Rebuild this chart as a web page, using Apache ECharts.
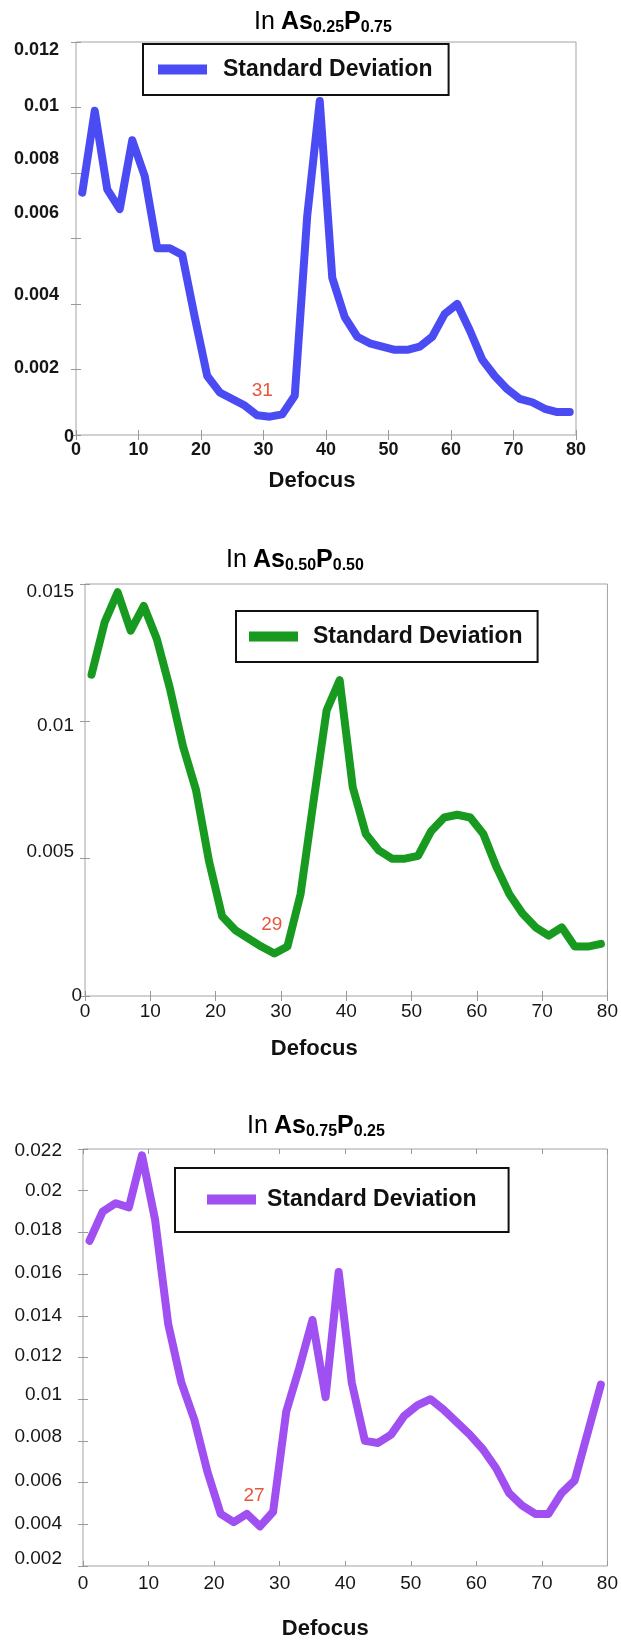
<!DOCTYPE html>
<html>
<head>
<meta charset="utf-8">
<script src="https://cdn.jsdelivr.net/npm/echarts@6/dist/echarts.min.js"></script>
<style>
html,body{margin:0;padding:0;background:#fff;}
#chart{width:621px;height:1648px;}
</style>
</head>
<body>
<div id="chart"></div>
<script>
// ---- data ----
const defocus = [1,3,5,7,9,11,13,15,17,19,21,23,25,27,29,31,33,35,37,39,41,43,45,47,49,51,53,55,57,59,61,63,65,67,69,71,73,75,77,79];
const sdAs025 = [0.0074,0.0099,0.0075,0.0069,0.0090,0.0079,0.0057,0.0057,0.0055,0.0036,0.0018,0.0013,0.0011,0.0009,0.0006,0.00056,0.00063,0.0012,0.0067,0.0102,0.0048,0.0036,0.0030,0.0028,0.0027,0.0026,0.0026,0.0027,0.0030,0.0037,0.0040,0.0032,0.0023,0.0018,0.0014,0.0011,0.0010,0.0008,0.0007,0.0007];
const sdAs050 = [0.0117,0.0136,0.0147,0.0133,0.0142,0.0130,0.0112,0.0091,0.0075,0.0049,0.0029,0.0024,0.0021,0.0018,0.00155,0.0018,0.0037,0.0071,0.0104,0.0115,0.0076,0.0059,0.0053,0.0050,0.0050,0.0051,0.0060,0.0065,0.0066,0.0065,0.0059,0.0047,0.0037,0.0030,0.0025,0.0022,0.0025,0.0018,0.0018,0.0019];
const sdAs075 = [0.0176,0.0190,0.0194,0.0192,0.0217,0.0186,0.0136,0.0108,0.0090,0.0065,0.0045,0.0041,0.0045,0.0039,0.0046,0.0094,0.0115,0.0138,0.0101,0.0161,0.0108,0.0080,0.0079,0.0083,0.0092,0.0097,0.0100,0.0095,0.0089,0.0083,0.0076,0.0067,0.0055,0.0049,0.0045,0.0045,0.0055,0.0061,0.0084,0.0107];
const xTickLabels = ['0','10','20','30','40','50','60','70','80'];
const yTickLabels1 = ['0','0.002','0.004','0.006','0.008','0.01','0.012'];
const yTickLabels2 = ['0','0.005','0.01','0.015'];
const yTickLabels3 = ['0.002','0.004','0.006','0.008','0.01','0.012','0.014','0.016','0.018','0.02','0.022'];
const titles = [['In','As','0.25','P','0.75'],['In','As','0.50','P','0.50'],['In','As','0.75','P','0.25']];
const legendText = 'Standard Deviation';
const xAxisName = 'Defocus';
const minMarks = [
  {name:'31', x:29.8, y:0.00135},
  {name:'29', x:28.6, y:0.00258},
  {name:'27', x:26.1, y:0.00535}
];

// ---- layout / style ----
const FONT = 'Liberation Sans, Arial, Helvetica, sans-serif';
const panels = [
  {data: sdAs025, color:'#4b4bf4', yMin:0, yMax:0.012, yInt:0.002, yLabels:yTickLabels1,
   grid:{left:76, top:42, width:500, height:393}, bold:true, yMargin:2, xMargin:6,
   labelDy:[2,-1,-9,-25,-14,-1,8], labelDx:[0,15,15,15,15,15,15],
   legend:{left:143, top:44, padding:[14,16,14,15], gap:11},
   title:{x:323, y:22}, nameGap:35, namePadRight:28},
  {data: sdAs050, color:'#179a1f', yMin:0, yMax:0.015, yInt:0.005, yLabels:yTickLabels2,
   grid:{left:85, top:584, width:526, height:412}, bold:false, yMargin:3, xMargin:6,
   labelDy:[0,-7,4,8], labelDx:[0,8,8,8],
   legend:{left:236, top:611, padding:[14,15,14,13], gap:10},
   title:{x:295, y:560}, nameGap:42, namePadRight:64},
  {data: sdAs075, color:'#a04ff0', yMin:0.002, yMax:0.022, yInt:0.002, yLabels:yTickLabels3,
   grid:{left:83, top:1149, width:527, height:417}, bold:false, yMargin:21, xMargin:8,
   labelDy:[-7,-1,-2,-4,-4,-2,0,-1,-3,0,2], labelDx:[0,0,0,0,0,0,0,0,0,0,0],
   legend:{left:175, top:1168, padding:[20,32,21,32], gap:6},
   title:{x:316, y:1126}, nameGap:52, namePadRight:40}
];

const grids = [], xAxes = [], yAxes = [], series = [], legends = [], graphics = [];
panels.forEach((p, i) => {
  grids.push(Object.assign({show:true, borderColor:'#a3a3a3', borderWidth:1, backgroundColor:'#fff'}, p.grid));
  const lblStyle = {color:'#161616', fontFamily:FONT, fontSize: p.bold ? 18 : 19, fontWeight: p.bold ? 'bold' : 'normal'};
  const yRich = {};
  p.yLabels.forEach((_, k) => {
    const dy = p.labelDy[k], dx = p.labelDx[k];
    yRich['o' + k] = Object.assign({padding:[dy > 0 ? 2*dy : 0, dx, dy < 0 ? -2*dy : 0, 0]}, lblStyle);
  });
  xAxes.push({
    gridIndex:i, type:'value', min:0, max:80, interval:10, position:'bottom',
    axisLine:{show:false}, splitLine:{show:false},
    axisTick:{show:true, inside:true, length:5, lineStyle:{color:'#999'}},
    axisLabel:Object.assign({margin:p.xMargin, formatter:v => xTickLabels[Math.round(v/10)]}, lblStyle),
    name:xAxisName, nameLocation:'middle', nameGap:p.nameGap,
    nameTextStyle:{fontFamily:FONT, fontSize:22, fontWeight:'bold', color:'#111', padding:[0,p.namePadRight,0,0]}
  });
  xAxes.push({
    gridIndex:i, type:'value', min:0, max:80, interval:10, position:'top',
    axisLine:{show:false}, splitLine:{show:false}, axisLabel:{show:false},
    axisTick:{show:true, inside:true, length:5, lineStyle:{color:'#999'}}
  });
  yAxes.push({
    gridIndex:i, type:'value', min:p.yMin, max:p.yMax, interval:p.yInt, position:'left',
    axisLine:{show:false}, splitLine:{show:false},
    axisTick:{show:true, inside:true, length:5, lineStyle:{color:'#999'}},
    axisLabel:Object.assign({margin:p.yMargin, rich:yRich, formatter:v => {
      const k = Math.round((v - p.yMin)/p.yInt);
      return '{o' + k + '|' + p.yLabels[k] + '}';
    }}, lblStyle)
  });
  yAxes.push({
    gridIndex:i, type:'value', min:p.yMin, max:p.yMax, interval:p.yInt, position:'right',
    axisLine:{show:false}, splitLine:{show:false}, axisLabel:{show:false},
    axisTick:{show:true, inside:true, length:5, lineStyle:{color:'#999'}}
  });
  const m = minMarks[i];
  series.push({
    name:'sd' + i, type:'line', xAxisIndex:i*2, yAxisIndex:i*2,
    data: defocus.map((x, k) => [x, p.data[k]]),
    showSymbol:false, symbol:'none', smooth:false,
    color:p.color,
    lineStyle:{color:p.color, width:8, cap:'round', join:'round'},
    itemStyle:{color:p.color},
    markPoint:{
      symbol:'circle', symbolSize:0, silent:true,
      label:{show:true, position:'inside', formatter:'{b}', color:'#e9553a', fontFamily:FONT, fontSize:19},
      data:[{name:m.name, coord:[m.x, m.y]}]
    }
  });
  legends.push({
    data:['sd' + i], left:p.legend.left, top:p.legend.top, padding:p.legend.padding,
    orient:'horizontal', icon:'rect', itemWidth:49, itemHeight:10,
    borderColor:'#111', borderWidth:2, backgroundColor:'#fff', selectedMode:false,
    formatter:() => legendText,
    textStyle:{fontFamily:FONT, fontSize:23, fontWeight:'bold', color:'#111', padding:[0,0,0,p.legend.gap]}
  });
  const t = titles[i];
  graphics.push({
    type:'text', x:p.title.x, y:p.title.y, z:10,
    style:{
      text:'{n|' + t[0] + '}{b|' + t[1] + '}{s|' + t[2] + '}{b|' + t[3] + '}{s|' + t[4] + '}',
      align:'center', verticalAlign:'middle',
      rich:{
        n:{fontFamily:FONT, fontSize:25, color:'#111', padding:[0,6,0,0]},
        b:{fontFamily:FONT, fontSize:25, fontWeight:'bold', color:'#111'},
        s:{fontFamily:FONT, fontSize:16, fontWeight:'bold', color:'#111', padding:[12,0,0,0]}
      }
    }
  });
});

const chart = echarts.init(document.getElementById('chart'), null, {renderer:'canvas'});
chart.setOption({
  animation:false,
  backgroundColor:'#fff',
  grid:grids, xAxis:xAxes, yAxis:yAxes, series:series, legend:legends, graphic:graphics
});
</script>
</body>
</html>
